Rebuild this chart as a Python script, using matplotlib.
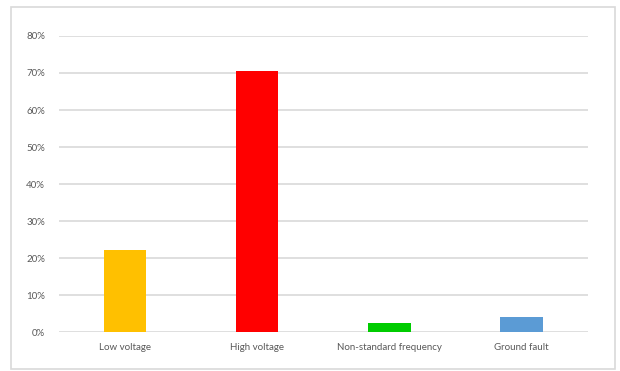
import matplotlib.pyplot as plt
from matplotlib.patches import Rectangle
from matplotlib.ticker import PercentFormatter

categories = ["Low voltage", "High voltage", "Non-standard frequency", "Ground fault"]
shares = [0.223, 0.706, 0.025, 0.042]
colors = ["#ffc000", "#ff0000", "#00cc00", "#5b9bd5"]
yticks = [0.0, 0.1, 0.2, 0.3, 0.4, 0.5, 0.6, 0.7, 0.8]

plt.rcParams["font.family"] = ["Lato", "DejaVu Sans"]

fig = plt.figure(figsize=(6.2, 3.71), dpi=100)
ax = fig.add_axes([0.095, 0.105, 0.853, 0.798])

# outer chart frame
fig.patches.append(Rectangle((11 / 620, 2 / 371), 604 / 620, 362 / 371,
                             transform=fig.transFigure, fill=False,
                             edgecolor="#d9d9d9", linewidth=1.2))

ax.bar(range(len(categories)), shares, width=0.32, color=colors, zorder=3)

ax.set_xlim(-0.5, len(categories) - 0.5)
ax.set_ylim(0, 0.8)
ax.set_yticks(yticks)
ax.yaxis.set_major_formatter(PercentFormatter(1.0, decimals=0))
ax.set_xticks(range(len(categories)))
ax.set_xticklabels(categories)
ax.grid(axis="y", color="#d9d9d9", linewidth=1.2, zorder=0)
for side in ["top", "right", "left", "bottom"]:
    ax.spines[side].set_visible(False)
ax.tick_params(axis="both", length=0, labelsize=7, labelcolor="#595959")
ax.tick_params(axis="y", pad=10)
ax.tick_params(axis="x", pad=8)

fig.savefig("out.png", dpi=100)
